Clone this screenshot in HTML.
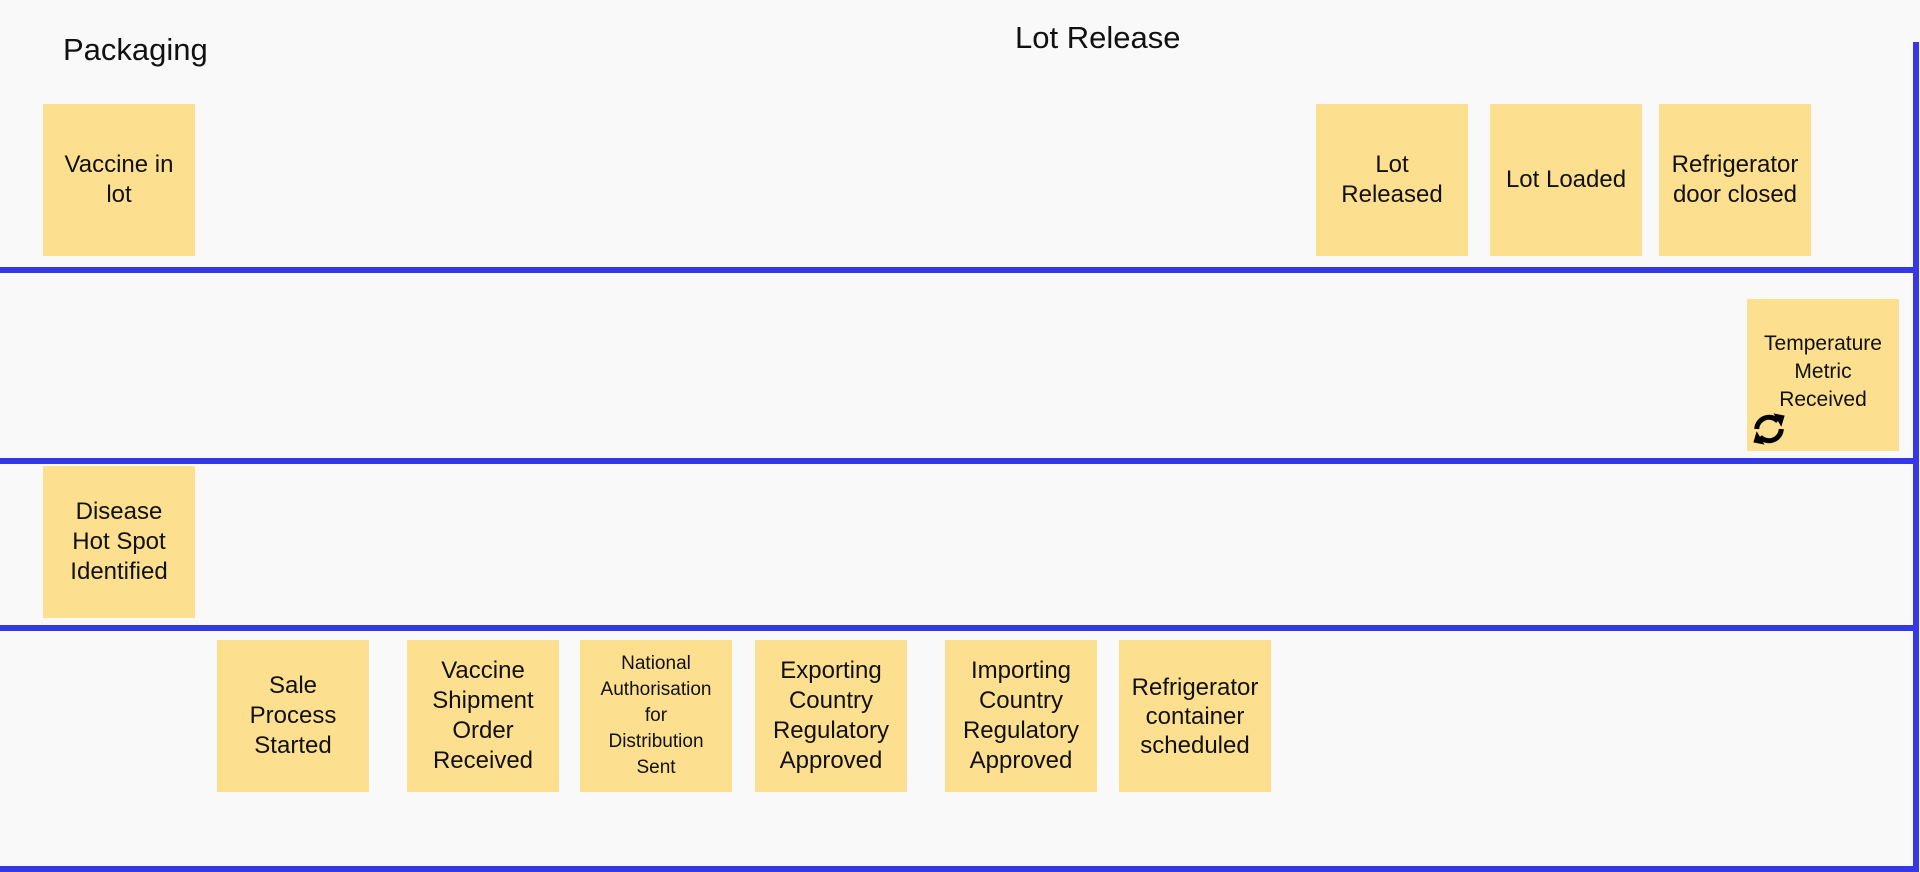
<!DOCTYPE html>
<html><head><style>
body{margin:0;width:1920px;height:872px;background:#f9f9f9;position:relative;overflow:hidden;font-family:"Liberation Sans",sans-serif;}
.h{position:absolute;left:0;width:1918px;height:6px;background:#3438e6;}
.v{position:absolute;left:1913px;top:42px;width:6px;height:830px;background:#3438e6;}
.b{position:absolute;width:152px;height:152px;background:#fddf90;display:flex;align-items:center;justify-content:center;text-align:center;font-size:24px;line-height:30px;color:#111;}
.t{position:absolute;font-size:31px;color:#111;}
</style></head><body>
<div class="t" style="left:63px;top:32px">Packaging</div>
<div class="t" style="left:1015px;top:20px">Lot Release</div>
<div class="h" style="top:267px"></div>
<div class="h" style="top:458px"></div>
<div class="h" style="top:625px"></div>
<div class="h" style="top:866px"></div>
<div class="v"></div>
<div class="b" style="left:43px;top:104px">Vaccine in<br>lot</div>
<div class="b" style="left:1316px;top:104px">Lot<br>Released</div>
<div class="b" style="left:1490px;top:104px">Lot Loaded</div>
<div class="b" style="left:1659px;top:104px">Refrigerator<br>door closed</div>
<div class="b" style="left:1747px;top:299px;font-size:21px;line-height:28px;padding-bottom:6px;box-sizing:border-box">Temperature<br>Metric<br>Received</div>
<svg style="position:absolute;left:1750px;top:410px" width="38" height="38" viewBox="0 0 34 34"><path d="M6 17a11 11 0 0 1 19-7" fill="none" stroke="#000" stroke-width="4.5"/><path d="M28 17a11 11 0 0 1-19 7" fill="none" stroke="#000" stroke-width="4.5"/><polygon points="21,3 31,5 28,15" fill="#000"/><polygon points="13,31 3,29 6,19" fill="#000"/></svg>
<div class="b" style="left:43px;top:466px">Disease<br>Hot Spot<br>Identified</div>
<div class="b" style="left:217px;top:640px">Sale<br>Process<br>Started</div>
<div class="b" style="left:407px;top:640px">Vaccine<br>Shipment<br>Order<br>Received</div>
<div class="b" style="left:580px;top:640px;font-size:19px;line-height:26px">National<br>Authorisation<br>for<br>Distribution<br>Sent</div>
<div class="b" style="left:755px;top:640px">Exporting<br>Country<br>Regulatory<br>Approved</div>
<div class="b" style="left:945px;top:640px">Importing<br>Country<br>Regulatory<br>Approved</div>
<div class="b" style="left:1119px;top:640px;line-height:29px">Refrigerator<br>container<br>scheduled</div>
</body></html>
